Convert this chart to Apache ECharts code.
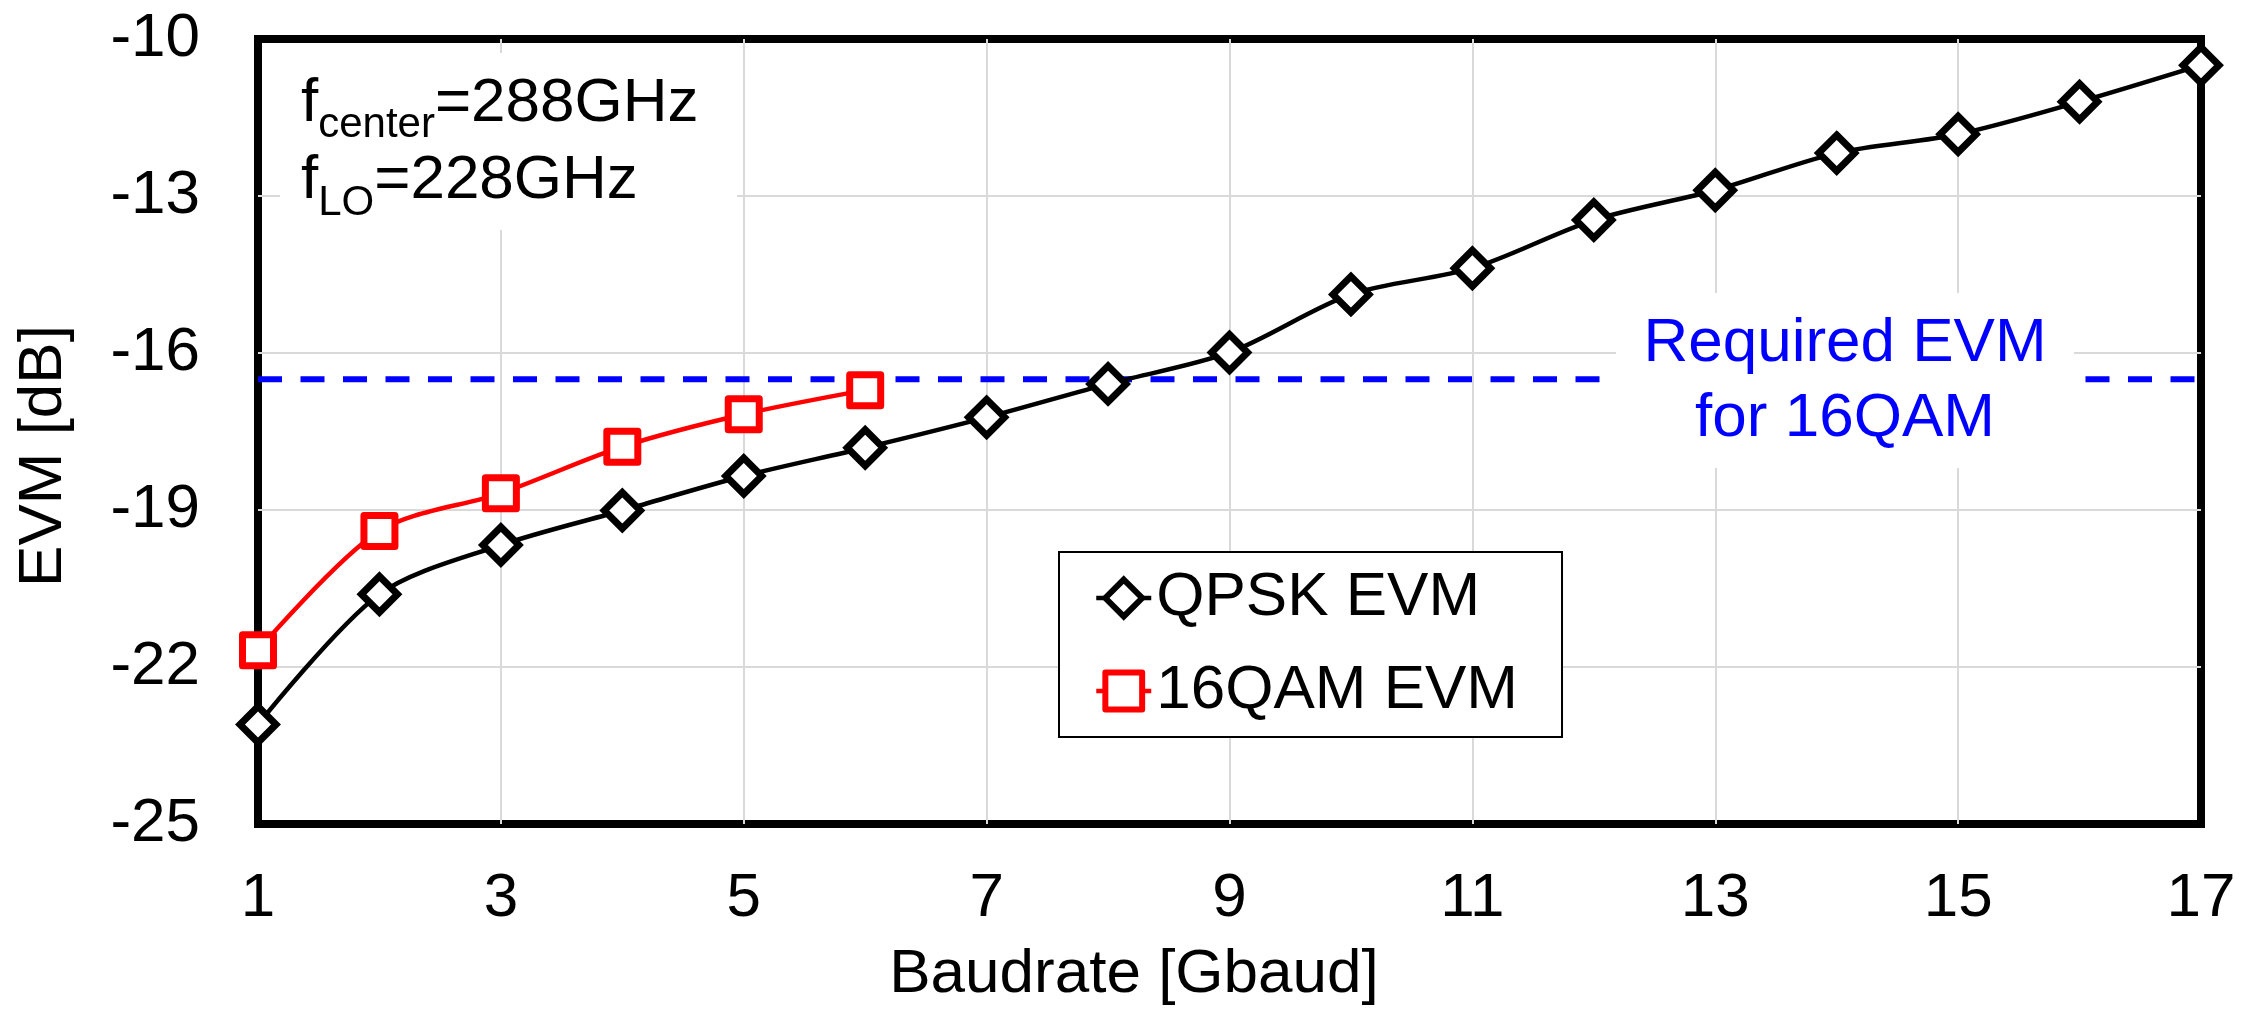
<!DOCTYPE html>
<html>
<head>
<meta charset="utf-8">
<title>EVM vs Baudrate</title>
<script src="https://cdn.jsdelivr.net/npm/echarts@6/dist/echarts.min.js"></script>
<style>
  html, body { margin: 0; padding: 0; background: #ffffff; }
  #chart { width: 2242px; height: 1017px; }
</style>
</head>
<body>
<div id="chart"></div>
<script>
// Measured EVM (dB) versus symbol rate (Gbaud)
const baudQpsk = [1, 2, 3, 4, 5, 6, 7, 8, 9, 10, 11, 12, 13, 14, 15, 16, 17];
const evmQpsk = [-23.10, -20.61, -19.67, -19.01, -18.35, -17.81, -17.23, -16.59, -15.99,
                 -14.88, -14.38, -13.46, -12.89, -12.18, -11.82, -11.20, -10.50];
const baud16qam = [1, 2, 3, 4, 5, 6];
const evm16qam = [-21.68, -19.40, -18.68, -17.79, -17.17, -16.71];

// EVM threshold needed for 16QAM
const requiredEvm = -16.5;

// Axis ticks
const xTicks = [1, 3, 5, 7, 9, 11, 13, 15, 17];
const yTicks = [-25, -22, -19, -16, -13, -10];

const FONT = '"Liberation Sans", Arial, Helvetica, sans-serif';

const chart = echarts.init(document.getElementById('chart'), null, { renderer: 'canvas' });

const zip = (xs, ys) => xs.map((x, i) => [x, ys[i]]);

const gridLine = {
  show: true,
  showMinLine: false,
  showMaxLine: false,
  lineStyle: { color: '#d9d9d9', width: 2 }
};

const option = {
  backgroundColor: '#ffffff',
  animation: false,
  grid: {
    left: 258, right: 41, top: 39, bottom: 193,
    show: true,
    borderColor: '#000000',
    borderWidth: 8,
    backgroundColor: 'transparent'
  },
  xAxis: {
    type: 'value',
    min: xTicks[0],
    max: xTicks[xTicks.length - 1],
    interval: xTicks[1] - xTicks[0],
    axisLine: { show: false },
    axisTick: { show: false },
    splitLine: gridLine,
    axisLabel: {
      margin: 44,
      color: '#000000',
      fontSize: 62,
      lineHeight: 62,
      fontFamily: FONT
    }
  },
  yAxis: {
    type: 'value',
    min: yTicks[0],
    max: yTicks[yTicks.length - 1],
    interval: yTicks[1] - yTicks[0],
    axisLine: { show: false },
    axisTick: { show: false },
    splitLine: gridLine,
    axisLabel: {
      margin: 58,
      color: '#000000',
      fontSize: 62,
      fontFamily: FONT
    }
  },
  legend: {
    orient: 'vertical',
    left: 1059,
    top: 552,
    padding: [15, 44, 15, 35],
    itemGap: 31,
    itemWidth: 55,
    itemHeight: 46,
    backgroundColor: '#ffffff',
    borderColor: '#000000',
    borderWidth: 2,
    borderRadius: 0,
    selectedMode: false,
    textStyle: { fontSize: 62, lineHeight: 62, color: '#000000', fontFamily: FONT },
    itemStyle: { borderWidth: 6 },
    lineStyle: { width: 'inherit' },
    data: ['QPSK EVM', '16QAM EVM']
  },
  series: [
    {
      name: 'Required EVM for 16QAM',
      type: 'line',
      z: 1,
      silent: true,
      symbol: 'none',
      clip: false,
      data: [[xTicks[0], requiredEvm], [xTicks[xTicks.length - 1], requiredEvm]],
      lineStyle: { color: '#0000ff', width: 6, type: [24, 18.5], cap: 'butt' }
    },
    {
      name: 'QPSK EVM',
      type: 'line',
      z: 5,
      clip: false,
      smooth: 0.3,
      data: zip(baudQpsk, evmQpsk),
      symbol: 'diamond',
      symbolSize: 36,
      lineStyle: { color: '#000000', width: 4.5 },
      itemStyle: { color: '#ffffff', borderColor: '#000000', borderWidth: 7, borderJoin: 'miter' }
    },
    {
      name: '16QAM EVM',
      type: 'line',
      z: 5,
      clip: false,
      smooth: 0.3,
      data: zip(baud16qam, evm16qam),
      symbol: 'rect',
      symbolSize: 31,
      lineStyle: { color: '#ff0000', width: 4.5 },
      itemStyle: { color: '#ffffff', borderColor: '#ff0000', borderWidth: 7, borderJoin: 'round' }
    }
  ],
  graphic: [
    // backing panels that keep annotations clear of the grid
    { type: 'rect', z: 3, silent: true, shape: { x: 280, y: 53, width: 457, height: 177 }, style: { fill: '#ffffff' } },
    { type: 'rect', z: 3, silent: true, shape: { x: 1616, y: 293, width: 458, height: 175 }, style: { fill: '#ffffff' } },

    // operating-point annotation
    { type: 'text', z: 4, x: 301, y: 103.5, style: { text: 'f', font: '62px ' + FONT, fill: '#000', align: 'left', verticalAlign: 'middle' } },
    { type: 'text', z: 4, x: 318.2, y: 125.4, style: { text: 'center', font: '42px ' + FONT, fill: '#000', align: 'left', verticalAlign: 'middle' } },
    { type: 'text', z: 4, x: 434.9, y: 103.5, style: { text: '=288GHz', font: '62px ' + FONT, fill: '#000', align: 'left', verticalAlign: 'middle' } },
    { type: 'text', z: 4, x: 301, y: 180.5, style: { text: 'f', font: '62px ' + FONT, fill: '#000', align: 'left', verticalAlign: 'middle' } },
    { type: 'text', z: 4, x: 318.2, y: 203.4, style: { text: 'LO', font: '42px ' + FONT, fill: '#000', align: 'left', verticalAlign: 'middle' } },
    { type: 'text', z: 4, x: 374.2, y: 180.5, style: { text: '=228GHz', font: '62px ' + FONT, fill: '#000', align: 'left', verticalAlign: 'middle' } },

    // threshold label
    { type: 'text', z: 4, x: 1845, y: 381, style: { text: 'Required EVM\nfor 16QAM', font: '62px ' + FONT, lineHeight: 75, fill: '#0000ff', align: 'center', verticalAlign: 'middle' } },

    // axis titles
    { type: 'text', z: 4, x: 44, y: 456, rotation: Math.PI / 2, style: { text: 'EVM [dB]', font: '62px ' + FONT, fill: '#000', align: 'center', verticalAlign: 'middle' } },
    { type: 'text', z: 4, x: 1134, y: 975, style: { text: 'Baudrate [Gbaud]', font: '62px ' + FONT, fill: '#000', align: 'center', verticalAlign: 'middle' } }
  ]
};

chart.setOption(option);
</script>
</body>
</html>
